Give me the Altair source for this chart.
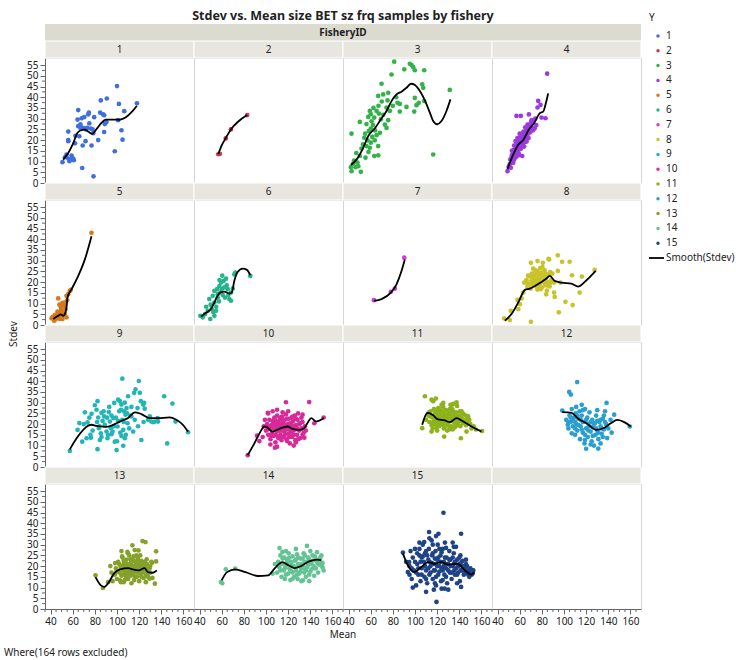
import altair as alt
import pandas as pd

# ---------------- texts ----------------
TITLE = "Stdev vs. Mean size BET sz frq samples by fishery"
FACET_TITLE = "FisheryID"
X_TITLE = "Mean"
Y_TITLE = "Stdev"
NOTE = "Where(164 rows excluded)"
LEGEND_TITLE = "Y"
SMOOTH_LABEL = "Smooth(Stdev)"
FISHERIES = [str(i) for i in range(1, 16)]
COLORS = ["#3f6fdc", "#d8344f", "#34b24a", "#9b3ade", "#d5781e",
          "#25b48d", "#d63ad6", "#c9c32a", "#22b5b8", "#d72a98",
          "#8db21c", "#2a9fcf", "#86a12a", "#63c394", "#1f4387"]

X_DOMAIN = [35, 169.5]
Y_DOMAIN = [0, 58.3]
X_MAJOR = [40, 60, 80, 100, 120, 140, 160]
X_MINOR = [35, 45, 50, 55, 65, 70, 75, 85, 90, 95, 105, 110, 115, 125, 130, 135, 145, 150, 155, 165]
Y_MAJOR = [0, 5, 10, 15, 20, 25, 30, 35, 40, 45, 50, 55]
Y_MINOR = [2.5, 7.5, 12.5, 17.5, 22.5, 27.5, 32.5, 37.5, 42.5, 47.5, 52.5]

# ---------------- data: (Mean, Stdev) per fishery ----------------
P1 = [[50.8,9.7],[54.4,13.2],[53,12],[56,11.4],[58,10.9],[60.5,11.4],[61,10.6],[56,20],[56,24],[56,19.5],
      [62.5,22],[65,34],[64.4,29.6],[67,27.3],[67,25.7],[68,30.2],[70.4,30.7],[69.5,25.7],[74,32],[74.6,32.8],
      [75,27.8],[73,25.7],[76.4,25.4],[78,25],[78.5,23.2],[79.4,30.7],[71.6,19.5],[69,17.5],[77,17.5],[68.6,7],
      [78.8,3.1],[83,20],[84.8,32.8],[85.4,38.5],[87.5,32],[88.4,23.8],[90.8,39.4],[90.5,28.4],[88.4,31.6],[98,14.8],
      [100,45.2],[101,29.3],[101.7,36.9],[104,24.6],[105,20.2],[106.5,33.5],[118,37.2],[57,10.2],[59,12.8],[65,26.5],
      [72,25],[62,18.5],[66,21.8],[89,27.5]]
P2 = [[56.9,13.4],[58.4,13.6],[63.7,20.8],[68.3,25],[83,31.7]]
P3 = [[81.2,56.6],[95.3,55.6],[96.9,55],[98.4,54],[99.8,52.6],[90.3,53],[108.3,52.6],[78.8,50.6],[69.8,46.3],[106.5,46],
      [107.4,44.4],[131.4,43.4],[66.8,40.6],[71.3,41.3],[75.8,42.1],[75.2,38.5],[84.2,37.4],[86.3,36.9],[99.8,39.7],[103.4,37.4],
      [101.4,36.3],[108.3,38.2],[92.3,35.5],[99.3,33.3],[86.3,33.3],[77.3,33.6],[74.3,35.2],[65.3,33.6],[67.4,32.4],[71.3,31.8],
      [59.2,33.6],[60.1,32.1],[57.8,30.8],[63.2,30.5],[69.2,29.7],[75.8,29.3],[50.2,28.5],[56.2,27.5],[60.8,28.8],[72.8,27.2],
      [74.3,25.7],[60.1,25.4],[58.3,24.2],[42.7,23],[68.3,23.4],[65.3,22.3],[54.2,21.1],[61.4,21.5],[57.1,19.9],[63.7,19.9],
      [60.1,18.8],[51.7,16.1],[56.2,17.2],[59.2,16.4],[66.8,17.2],[63.2,12.6],[66.8,12.9],[55.3,11.8],[50.2,12.6],[48.1,9.5],
      [44.2,9],[42.1,7.4],[46.3,7.4],[48.8,7.8],[42.7,5.5],[51.1,5.2],[116.4,13.3],[62,27],[64,24.5],[53,18],
      [58,14.5],[45,10.5],[47,14],[55,23],[67,36],[70,38],[62.5,35],[80,36],[83,40]]
P4 = [[49,5.5],[50,7.5],[51,8.8],[52,7.1],[51.5,11],[52.6,11.8],[53.5,9.5],[54.2,9.5],[53,13],[54,12],
      [55,11],[55.6,13.3],[56,14.5],[54.5,15.5],[56.5,16],[57,12.5],[57.5,15],[58,17],[58.7,16.4],[57.1,18.9],
      [58.5,19.5],[59,14],[60,16],[60.1,19.6],[60.5,18],[61,20],[61.5,17.5],[62,19],[62.3,12.6],[62.5,21.5],
      [63,18.5],[63.2,17.2],[63.5,20.5],[64,22],[64.6,21.1],[64,19],[65,23],[65.5,21],[66.2,19.3],[66,24.5],
      [67.1,27.2],[67,22.5],[68,25],[68.3,23.5],[69,26],[70,26],[70.7,29.3],[71,25],[72.2,24.6],[73.7,25.7],
      [68.3,32],[57.1,31.3],[61,31.3],[76.1,35.2],[78.8,36.4],[76.7,38.3],[79.7,30.5],[83.3,30.2],[84.8,51],[56.2,19.6],
      [59.2,21.1],[63.2,23.4],[61.7,22.7],[55,17.5],[53,15],[58,21],[60,23],[65,26],[66,20],[70,28],
      [72,28.5],[74,30],[75,27],[55,13],[56.5,12],[57,17.5],[58,15.5],[59,18],[60,20.5],[61,16],
      [62,21],[63,19.5],[64,17],[65,20],[66,22],[67,25],[68,21],[69,23.5],[70,24],[59.5,13],
      [61,22.5],[63.5,24],[57.5,13.5]]
P5 = [[40.9,3.1],[43.3,2],[45.4,3.6],[47.5,5.1],[49.3,6.6],[49.9,4.3],[51.4,9],[52.3,10.5],[46.9,12.4],[50.8,2.8],
      [52.9,5.1],[54.4,3.6],[48.4,2.8],[43.9,4.6],[46.3,6.2],[49.3,8.2],[53.5,7.4],[56,14.4],[57.4,15.9],[58.3,16.4],
      [54.4,13.6],[42,3.8],[44.5,2.6],[47,3.5],[50,3.2],[51,6],[52,8.5],[48,9.5],[50.5,10.2],[53,9.5],
      [55,11.5],[45.5,4.8],[44,3.3],[77,43]]
P6 = [[40.7,4.3],[42.9,3.6],[45,5.1],[47.4,6.6],[49.7,2.8],[51,7.4],[48.8,12.1],[53.4,4.3],[54.9,6.6],[53.4,10.5],
      [51.9,13.6],[55.8,16.7],[56.4,14.4],[53.4,15.9],[57.9,18.2],[59.4,19.8],[61.8,20.6],[63.9,21.6],[60,16.7],[65.4,16.7],
      [66.9,12.1],[63,12.8],[68.4,15.1],[71.4,23.6],[72.3,24.4],[85.8,22.9],[68.4,11.3],[58.8,15.1],[56.4,12.8],[46,8.5],
      [50,9.5],[52.5,6],[55,8.5],[57.5,11],[61,14],[62,17.5],[58,21],[60.5,23],[64.5,18.5],[66,14],[70,17]]
P7 = [[62.9,11.6],[78.2,15.5],[81.8,17],[90.3,31.4]]
P8 = [[46,3.1],[51.1,2.3],[52,6.6],[58.7,7.4],[58,11.7],[60.1,9.7],[61.7,12.4],[63.2,15.1],[64.1,19.8],[66.2,20.6],
      [67.7,19],[70.1,29],[70.1,1.5],[72.2,26.3],[72.8,22.9],[73.7,19.8],[75.2,25.2],[76.1,29.8],[76.7,18.2],[78.2,22.1],
      [79,16.7],[79.7,24.4],[80.9,29],[82.3,19.8],[83.9,14.3],[86,30.8],[86.6,30.6],[87.5,24.7],[88.1,19.8],[91,15.1],
      [91,19.8],[91.6,13.1],[94.4,32.5],[94.4,25.2],[95.3,5.9],[96.8,19.8],[98.3,29.5],[101.3,10.8],[105.1,29.5],[107.2,23.2],
      [107.8,9.3],[114.1,15.1],[116.2,22.6],[127.6,25.7],[66,21],[67.5,23],[68.5,19],[69.5,22.5],[70.5,20.5],[71,24],
      [72,21.5],[73,18.5],[73.5,23.5],[74.5,20],[75,22],[75.5,18],[76.5,24.5],[77,21],[78,19],[78.5,26.5],
      [79.5,21.5],[80,17.5],[81,23],[81.5,20.5],[82.5,25.5],[83,18.5],[84,22],[85,20],[86,23.5],[87,18],
      [88.5,21],[89.5,24],[70,17],[72.5,26],[76,16.5],[80.5,27],[84.5,16],[67,18],[74,25.5],[79,23.5],
      [71.5,19.5],[70,23],[72,19],[74,21],[76,20],[77.5,23],[79,20],[80,22.5],[82,21],[83.5,24],
      [85,18.5],[73,22],[75.5,25]]
P9 = [[57.4,7.5],[64.4,17.3],[68.6,11.8],[71,25.5],[72.5,13.4],[73.4,20.8],[76.4,13.7],[77,24.8],[80,28.8],[82.4,30.7],
      [81.5,26.7],[82.4,8.3],[83,23.1],[83.6,18.1],[85.4,15.7],[84.5,12.6],[86,25.2],[88.4,23.6],[89,19.7],[90.5,16.5],
      [91.4,13.4],[92.6,25.6],[93.5,21.2],[94.5,18.1],[95,15.3],[96.6,22.8],[97.5,29.9],[98,11.8],[99.6,7.9],[100.5,18.9],
      [101,31.4],[102.6,30.7],[103.5,26.7],[104,29.1],[104.8,41.2],[104.8,22],[105.6,17.3],[105.6,9.9],[106.5,25.9],[107,13.4],
      [107.7,24.4],[108.6,27.5],[109.5,20.4],[110,33],[113,23.6],[114.6,16.5],[115.5,34.6],[116.7,36.2],[118.5,27.5],[119.7,40.1],
      [120.6,34.6],[121.5,30.7],[122,12.6],[123.6,29.1],[124.5,29.9],[125,27.2],[128,22],[129.6,23.6],[131,21.2],[132.6,20.9],
      [134.2,21.2],[136.6,22.8],[137,21.2],[142.6,33],[145.3,11],[150,29.6],[152.8,21.2],[164.2,16.2],[70,20],[75,23],
      [78,17],[82,21],[86,14],[88,26],[92,15],[95,24],[97,19],[100,12],[102,26],[106,21],
      [108,15],[111,18],[113,28],[116,22],[119,19],[124,21],[76,15],[84,19],[93,28],[99,23],
      [103,16],[107,30],[112,24],[87,21.5],[91,23],[96,16.5],[101,21.5],[104,14.5],[109,25],[66,20.5]]
P10 = [[83.5,5.5],[91.9,14.6],[94,12.1],[101.6,25.2],[104.6,18.1],[108.1,9],[110,26.7],[110.6,21.2],[118,30.2],[119,12.1],
       [127,11.5],[133,24.4],[134.6,13.7],[139,30.3],[143.6,20.4],[152,23.1],[100,17],[101,20],[102,15],[103,22],
       [103.5,18],[104,13],[105,19.5],[105.5,16],[106,21.5],[107,14.5],[107.5,23],[108,18],[108.5,11.5],[109,20],
       [109.5,16.5],[110,24],[110.5,19],[111,13.5],[111.5,21],[112,17],[112.5,22.5],[113,15],[113.5,19.5],[114,12.5],
       [114.5,23.5],[115,18],[115.5,20.5],[116,14],[116.5,16.5],[117,22],[117.5,19],[118,24.5],[118.5,13],[119,17.5],
       [119.5,20],[120,15.5],[120.5,22.5],[121,18.5],[121.5,11],[122,20.5],[122.5,16],[123,23],[123.5,14],[124,19],
       [124.5,21.5],[125,17],[126,24],[126.5,12.5],[127,19.5],[128,15],[128.5,22],[129,17.5],[130,20],[131,13.5],
       [132,18],[133,21],[134,16],[135,19],[98,19],[99,22],[102,25],[104,10.5],[110,9.5],[115,25.5],
       [120,26],[125,10],[129,25],[136,17],[97,14],[106,26],[101.5,17.5],[103,19],[105,14.5],[106.5,18.5],
       [108,22],[109,15],[111,19],[112.5,14],[113,23],[114,17],[116,20],[117,15],[118,18.5],[119,22.5],
       [120,19],[121,14],[122,17],[123,20],[124,23.5],[125,15],[126,19],[127,22.5],[128,18],[129,13],
       [130,17],[131,20.5],[132,23],[133,15],[107,20],[115,21.5]]
P11 = [[106.5,18.1],[108.9,33],[114.9,31.4],[116.4,30.7],[118.8,31.9],[114.9,16.5],[125.5,29.9],[126.3,14.2],[134.5,29.4],[137.5,30.2],
       [141.4,13.4],[146.5,16.5],[148,23.6],[160.6,16.8],[112,24],[113,21],[114,26],[115,19.5],[116,23],[117,27],
       [117.5,20.5],[118,25],[119,22],[119.5,18.5],[120,24.5],[121,27.5],[121.5,21],[122,19],[123,23.5],[123.5,26],
       [124,20],[125,22.5],[125.5,28],[126,18],[126.5,24.5],[127,21.5],[128,26.5],[128.5,19.5],[129,23],[130,25],
       [130.5,21],[131,17.5],[131.5,27],[132,22.5],[133,19],[133.5,24],[134,26.5],[135,21],[135.5,23.5],[136,18.5],
       [137,25.5],[137.5,22],[138,20],[139,24],[140,21.5],[140.5,26],[141,19],[142,23],[143,20.5],[144,24.5],
       [145,22],[146,19.5],[147,23.5],[148,21],[150,20],[151,18],[153,19],[155,17.5],[120,17],[124,29],
       [132,29],[138,28.5],[110,22],[113,25.5],[116,18],[129,17],[134,17.5],[142,26],[127,24],[122,25.5],
       [118,20],[136,23],[131,24.5],[125,20],[114,23.5],[116.5,21],[118,23],[119,26],[120,21],[121,23],
       [122,27],[123,21],[124,24],[125,26],[126,22],[127,19],[128,23.5],[129,21],[130,22.5],[131,19],
       [132,25.5],[133,21.5],[134,23],[135,25],[136,20.5],[137,23],[138,22],[139,19.5],[140,24],[141,22],
       [143,25],[144,21],[146,24],[149,22],[117,24],[121,19.5],[128,20],[133,27.5]]
P12 = [[111.9,39.6],[104.7,35],[106.2,33.8],[98.4,26.3],[138.4,29.9],[145.3,24.4],[159.4,18.9],[130.9,8.6],[118.9,12.6],[107,15.7],
       [103.4,19.7],[102,22],[104,18],[105,24],[106,21],[107,27],[108,19],[109,23],[110,15],[110.5,25],
       [111,20],[112,17],[113,22.5],[114,26],[114.5,13],[115,19],[116,24],[117,16],[118,21],[118.5,11],
       [119,27],[120,18],[121,23],[121.5,14],[122,20],[123,25.5],[124,16.5],[125,12],[125.5,22],[126,18.5],
       [127,10],[128,20.5],[128.5,15],[129,24],[130,17],[131,13],[132,21],[133,19],[134,15.5],[135,22.5],
       [136,17.5],[137,26],[138,20],[139,13.5],[140,18],[142,22],[143,16],[111,28],[116,29],[120,8.5],
       [124,10.5],[133,11],[136,24],[130,26.5],[117,26.5],[104,21],[106,23],[108,21.5],[110,18],[112,24],
       [113,19.5],[115,22],[116,17.5],[117,21],[119,15],[120,22],[122,17],[123,19],[124,21],[126,14.5],
       [127,20],[129,18],[130,21.5],[131,16],[133,22],[134,18],[135,14],[137,21],[110,21]]
P13 = [[80.6,15.7],[87.3,9.8],[98.3,21.4],[99.8,17.6],[102.8,13.4],[104.6,24.5],[106.5,20],[109.4,26.6],[112,23.2],[113.9,29.7],
       [115.7,18.8],[117.5,25],[119.4,27.3],[121.2,22.2],[123,31.7],[125.7,31.2],[126.8,23.2],[129.4,19.1],[131.6,21.6],[135.3,26.9],
       [135.3,22.2],[134.2,11.8],[129.4,14.1],[98,16],[99,19],[100,14],[101,22],[102,17],[103,20],[103.5,12.5],
       [104,15.5],[105,24],[105.5,18],[106,21],[107,13.5],[107.5,16.5],[108,19.5],[108.5,23],[109,17],[110,14],
       [110.5,20.5],[111,25],[111.5,18],[112,15.5],[112.5,21.5],[113,12],[113.5,19],[114,23],[114.5,16],[115,20],
       [115.5,13.5],[116,17.5],[116.5,22],[117,19],[118,15],[118.5,24],[119,18],[119.5,21],[120,13],[121,16.5],
       [121.5,19.5],[122,22.5],[123,17],[124,14.5],[124.5,20],[125,18],[126,16],[127,21],[128,15],[129,19],
       [130,17],[131,22],[132,14.5],[104,27],[110,26],[116,27.5],[121,25],[96,13],[94,20],[92,12.5],
       [95,17],[126,12.5],[100,18],[102,21],[104,19],[105,16],[106,22.5],[107,18],[108,15],[109,21],
       [110,18],[111,16],[112,20],[113,17],[114,19.5],[115,22.5],[116,15],[117,20.5],[118,17],[119,23],
       [120,20],[121,18],[122,15],[123,21],[124,17.5],[125,22],[126,19.5],[127,16],[128,18],[130,20],
       [106,12.5],[115,24.5]]
P14 = [[59.3,12.6],[63.7,18.5],[72.2,18.8],[112.2,28.4],[114.8,26.6],[137,29.4],[150,21.1],[133.3,13.4],[124,14.1],[60.5,12],
       [110,17],[111,22],[112,19.5],[113,25],[114,15],[115,21],[116,18],[116.5,24],[117,14],[118,20.5],
       [119,23],[120,16.5],[120.5,26],[121,19],[122,13.5],[122.5,22],[123,17.5],[124,24.5],[125,20],[125.5,15],
       [126,22.5],[127,18],[128,25.5],[128.5,14],[129,21],[130,16.5],[131,23.5],[131.5,19],[132,13],[133,20.5],
       [134,26],[134.5,17],[135,22],[136,15],[137,19.5],[138,24],[138.5,21],[139,16],[140,27],[141,18.5],
       [142,22.5],[143,20],[143.5,15.5],[144,24.5],[145,19],[146,22],[147,17],[148,23],[149,20.5],[150,25],
       [151,21.5],[152,18],[146,26.5],[139,13],[127,28],[118,27],[108,21],[106,16.5],[112,21],[113,18],
       [115,23.5],[117,19],[118,16],[119,21.5],[121,24],[122,18],[123,20.5],[124,17],[126,19.5],[127,23],
       [128,16],[129,24],[130,20],[131,17.5],[132,21],[133,23.5],[134,19],[135,25],[136,18],[137,22],
       [138,20.5],[139,23],[140,17.5],[141,21],[142,25],[144,19],[145,23],[147,21],[149,24],[151,19.5]]
P15 = [[89.1,26.3],[94.7,21.9],[93.5,17.2],[112.7,35.9],[121.2,35.1],[141.6,35.1],[125.7,44.9],[119.4,3.3],[126.8,9.5],[141.6,10.3],
       [108.3,31.2],[152.6,18],[95,20],[97,14],[98,24],[99,18],[100,28],[101,11],[102,21],[103,16],
       [104,25],[105,13],[106,19],[107,30],[108,22],[108.5,15],[109,26],[110,18],[111,12],[112,23],
       [112.5,28],[113,16],[114,20],[115,32],[115.5,25],[116,14],[117,21],[118,18],[118.5,27],[119,11],
       [120,23],[120.5,30],[121,16],[122,20],[123,25],[123.5,13],[124,19],[125,28],[126,22],[126.5,16],
       [127,31],[128,19],[128.5,24],[129,12],[130,21],[131,27],[131.5,17],[132,23],[133,14],[134,20],
       [135,26],[135.5,18],[136,22],[137,29],[138,16],[139,20],[140,24],[140.5,13],[141,18],[142,22],
       [143,20],[144,16],[145,19],[146,21],[147,17],[148,18],[149,15],[150,17],[151,16],[152,18],
       [110,8],[117,9],[130,9],[113,33],[104,31],[98,10],[101,17],[106,24],[119,34],[124,9.5],
       [134,31],[92,22],[96,27],[102,26],[103,19],[105,22],[106,16],[107,24.5],[109,20],[110,14],
       [111,25],[112,19],[113,22],[114,17],[115,21.5],[116,26],[117,18],[118,23.5],[119,15],[120,20],
       [121,24],[122,17.5],[123,22],[124,26.5],[125,18],[126,20],[127,24],[128,15],[129,21],[130,18],
       [131,23],[132,20],[133,17],[134,24],[135,21],[136,16],[137,19],[138,23],[139,17],[140,21],
       [141,25],[142,18],[143,22.5],[144,19.5],[145,17],[146,23],[147,20],[148,16],[150,19],[152,16.5],
       [100,22],[97,19],[95,16],[104,28],[116,30],[122,28],[128,28.5],[135,29],[110,27],[118,12],
       [125,13.5],[138,12]]

# ---------------- smooth curves (Smooth(Stdev)) ----------------
S1 = [[51.4,10.9],[56,14],[60,18],[64.4,23.4],[67,24.5],[71,24.9],[74,24],[77.6,22.9],[82,25.5],[86,28],
      [89.6,29.6],[94,29.6],[98,29.6],[102,29.5],[105.6,30],[110,31.5],[114,33.5],[118,36]]
S2 = [[56.9,13.4],[60,17.5],[63.7,21],[68.3,25],[75,28.7],[83,31.7]]
S3 = [[42.1,8.4],[47.2,10.9],[53.2,16.4],[57.8,21.9],[63.8,25.5],[69.2,29.7],[74.3,33.6],[78.8,38.2],[83.3,41.3],[87.8,42.6],
      [92.3,44.4],[96.3,46.3],[99.9,45.7],[104.4,42.9],[108.9,38.5],[113.4,32.8],[116.4,28.9],[120,27.4],[123.9,28.9],[128.4,33.6],
      [132,39]]
S4 = [[49,6.5],[54.2,13.3],[58.7,17.8],[63.2,20.1],[68.3,24.9],[73.1,28],[78.2,32.6],[81.2,33.3],[83.6,37.2],[85.7,41.8]]
S5 = [[42.4,2.8],[46.9,4.3],[49.3,5],[51.4,4.3],[53.5,5.9],[54.4,8.2],[55.3,12.8],[59,16.7],[65,22.9],[71,30.6],[77,41.4]]
S6 = [[41.3,3.9],[45.6,5.6],[50.6,7.7],[53.4,10.5],[56.4,13.8],[59.4,15.3],[62.4,15.6],[66.9,14.7],[69,15.1],[71.4,20.6],
      [74.4,24.7],[78.9,26.3],[82.8,25.7],[85.8,23.2]]
S7 = [[62.9,11.3],[69.8,12.1],[78.2,15.1],[83.3,19],[87.8,25.2],[90.8,30.6]]
S8 = [[46.6,2],[52.6,5.1],[58.7,10.5],[64.7,16.4],[69.2,17],[73.7,18.2],[79.7,20.1],[83.3,21.3],[87.2,22.9],[91.6,20.6],
      [97.7,19.8],[106.6,19.3],[112.7,17.9],[118.7,20.1],[128.6,25.2]]
S9 = [[57.4,8.2],[63.5,13.4],[69.5,17.3],[74,19.3],[77,19.7],[81,19.2],[86,18.9],[90,18.7],[95,19.3],[100,20.5],
      [104,21.5],[110,22.8],[116,25.5],[122,24.7],[129.6,22.8],[137,22.8],[147.5,23.1],[153.5,22],[159.5,19.7],[164.2,16.5]]
S10 = [[83.5,5.5],[89.5,11],[95,16.5],[98.5,18.9],[101,18.5],[105.8,16.5],[111.8,17.8],[119.4,18.9],[123.9,17.8],[129.9,17.3],
       [134.5,18.1],[138,21],[140.8,22.8],[145.3,21.2],[152.2,22.8]]
S11 = [[106.5,19.7],[111.3,25.3],[116.4,24.1],[120.3,22.3],[126.9,21.7],[131.5,20.9],[137.5,22.8],[143.5,21.2],[151,18.9],[160,16.5]]
S12 = [[98.4,25.6],[106.8,25.2],[112.8,22.5],[120.3,20.4],[129.3,17.3],[136.8,18.4],[142.2,20.4],[148.2,22],[154.8,20.8],[160.2,18.9]]
S13 = [[80.6,14.9],[85,11.3],[88.7,10.3],[92.4,12.3],[97.2,16.5],[102.8,18.5],[110.2,19.1],[113.9,18.5],[119.4,18],[125,19.1],
       [127.9,17.2],[132.3,16.9],[136,18]]
S14 = [[60,13.4],[64.8,17.2],[72.2,18.5],[81.5,17.2],[92.6,15.4],[101.9,15.7],[108,19.1],[114.8,21.9],[120.4,20.4],[125.9,19.1],
       [131.5,20],[138.9,22.2],[146.3,23],[150,22.7]]
S15 = [[89.1,25.8],[93.5,20.4],[99.1,17.2],[104.6,19.1],[112,21.9],[117.5,21.1],[123.1,21.9],[130.5,20.7],[137.9,21.1],[145.2,18],
       [150.8,16],[153.4,17.2]]

POINTS = [P1, P2, P3, P4, P5, P6, P7, P8, P9, P10, P11, P12, P13, P14, P15]
SMOOTHS = [S1, S2, S3, S4, S5, S6, S7, S8, S9, S10, S11, S12, S13, S14, S15]

points_df = pd.DataFrame([{"fishery": i, "mean": m, "stdev": s}
                          for i, pts in enumerate(POINTS, start=1) for m, s in pts])
smooth_df = pd.DataFrame([{"fishery": i, "mean": m, "stdev": s}
                          for i, pts in enumerate(SMOOTHS, start=1) for m, s in pts])
legend_df = pd.DataFrame({"idx": list(range(16)),
                          "label": FISHERIES + [SMOOTH_LABEL]})
xminor_df = pd.DataFrame({"mean": X_MINOR})
yminor_df = pd.DataFrame({"stdev": Y_MINOR})

# ---------------- styling ----------------
FONT = "Noto Sans"
W, H = 149, 125
BAND = "#dcdbcf"
HEAD = "#e8e7df"
TXT = "#222222"
TICK = "#666666"

XS = alt.Scale(domain=X_DOMAIN, nice=False, zero=False)
YS = alt.Scale(domain=Y_DOMAIN, nice=False, zero=False)
X_AXIS = alt.Axis(values=X_MAJOR, format="d", title=None, grid=False, labelOverlap=False,
                  labelFlush=False, tickSize=5, labelPadding=2)
Y_AXIS = alt.Axis(values=Y_MAJOR, format="d", title=None, grid=False, labelOverlap=False,
                  labelFlush=False, tickSize=5, labelPadding=2)


def txt(s, x, y, size=10, weight="normal", align="center", angle=0):
    kw = dict(font=FONT, fontSize=size, fontWeight=weight, align=align, baseline="middle", color=TXT)
    if angle:
        kw["angle"] = angle
    return alt.Chart(pd.DataFrame({"t": [s]})).mark_text(**kw).encode(
        x=alt.value(x), y=alt.value(y), text="t:N")


def band(x0, x1, y0, y1, fill, stroke=None):
    kw = dict(fill=fill)
    if stroke:
        kw.update(stroke=stroke, strokeWidth=1)
    return alt.Chart(pd.DataFrame({"b": [0]})).mark_rect(**kw).encode(
        x=alt.value(x0), x2=alt.value(x1), y=alt.value(y0), y2=alt.value(y1))


def panel(k):
    r, c = divmod(k - 1, 4)
    xax = X_AXIS if r == 3 else None
    yax = Y_AXIS if c == 0 else None
    enc = dict(x=alt.X("mean:Q", scale=XS, axis=xax),
               y=alt.Y("stdev:Q", scale=YS, axis=yax))
    color = COLORS[k - 1] if k <= 15 else "#ffffff"
    layers = []
    if r == 0:
        layers.append(band(0, W, -34, -17, BAND))
    layers.append(band(0, W, -17, 0, HEAD, stroke="#ffffff"))
    layers.append(txt(str(k) if k <= 15 else "", W / 2, -8.5, size=10))
    layers.append(alt.Chart(points_df).transform_filter(alt.datum.fishery == k)
                  .mark_circle(size=22, opacity=1, color=color).encode(**enc))
    if k <= 15:
        layers.append(alt.Chart(smooth_df).transform_filter(alt.datum.fishery == k)
                      .mark_line(color="black", strokeWidth=1.8, interpolate="monotone").encode(**enc))
    if c == 0:
        layers.append(alt.Chart(yminor_df).mark_rule(color=TICK, strokeWidth=1).encode(
            y=alt.Y("stdev:Q", scale=YS, axis=yax), x=alt.value(-3), x2=alt.value(0)))
    if r == 3:
        layers.append(alt.Chart(xminor_df).mark_rule(color=TICK, strokeWidth=1).encode(
            x=alt.X("mean:Q", scale=XS, axis=xax), y=alt.value(H), y2=alt.value(H + 3)))
    if k == 1:
        layers.append(band(-44, -43, -57, -56, "#ffffff"))
    if k == 3:
        layers.append(txt(TITLE, 0, -42, size=12.5, weight="bold"))
        layers.append(txt(FACET_TITLE, 0, -25.5, size=10, weight="bold"))
    if k == 9:
        layers.append(txt(Y_TITLE, -31, -8, size=10, angle=270))
    if k == 13:
        layers.append(txt(NOTE, -41, 169, size=10, align="left"))
    if k == 15:
        layers.append(txt(X_TITLE, 0, 151, size=10))
    main = alt.layer(*layers)
    if k == 4:
        LS = alt.Scale(domain=[0, 15], range=[-22, 200], nice=False, zero=False)
        ly = alt.Y("idx:Q", scale=LS, axis=None)
        leg = alt.layer(
            alt.Chart(legend_df).transform_filter(alt.datum.idx < 15).mark_circle(size=12, opacity=1).encode(
                x=alt.value(166), y=ly,
                color=alt.Color("label:N", scale=alt.Scale(domain=FISHERIES, range=COLORS), legend=None)),
            alt.Chart(legend_df).transform_filter(alt.datum.idx == 15).mark_rule(color="black", strokeWidth=1.8).encode(
                x=alt.value(157), x2=alt.value(172), y=ly),
            alt.Chart(legend_df).mark_text(font=FONT, fontSize=10, align="left", baseline="middle", color=TXT).encode(
                x=alt.value(174), y=ly, text="label:N"),
            txt(LEGEND_TITLE, 157, -40, size=10, align="left"),
        )
        main = alt.layer(main, leg).resolve_scale(y="independent")
    return main.properties(width=W, height=H)


chart = alt.concat(*[panel(k) for k in range(1, 17)], columns=4,
                   spacing={"row": 17, "column": 0}, bounds="flush").properties(
    padding={"left": 0, "top": 0, "right": 0, "bottom": 0}
).configure_view(stroke="#d6d6d6", strokeWidth=1).configure_axis(
    labelFont=FONT, labelFontSize=10, labelColor=TXT, tickColor=TICK,
    domainColor=TICK, domainWidth=1, tickWidth=1)

chart.save("out.html", embed_options={"renderer": "svg", "actions": False})
